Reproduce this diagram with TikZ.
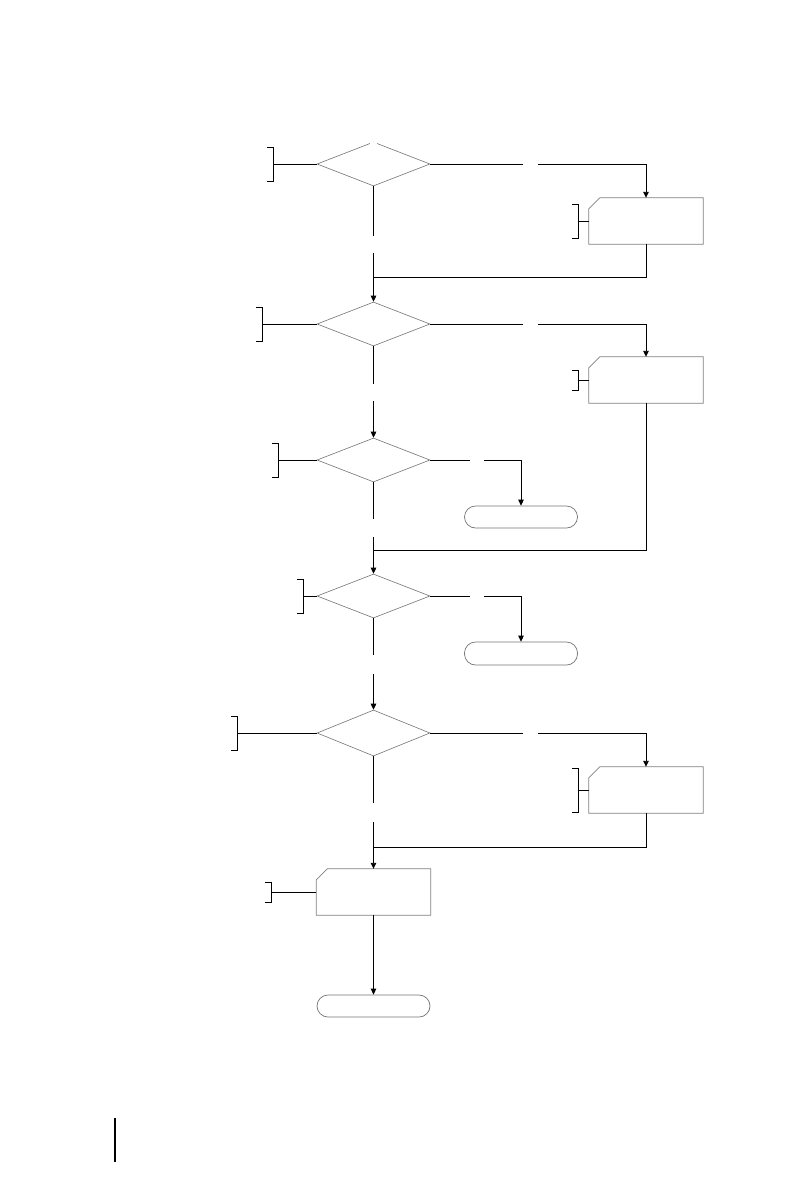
\documentclass[tikz,border=0pt]{standalone}
\usetikzlibrary{shapes.geometric,arrows.meta}
\begin{document}
\begin{tikzpicture}[x=1bp,y=-1bp,
  decision/.style={diamond,draw=black!55,line width=0.6bp,inner sep=0pt,minimum width=113bp,minimum height=44bp},
  procbox/.style={rectangle,draw=none,inner sep=0pt,minimum width=114bp,minimum height=46bp},
  cutline/.style={draw=black!50,line width=0.8bp},
  termbox/.style={rectangle,rounded corners=11bp,draw=black!55,line width=0.7bp,inner sep=0pt,minimum width=113bp,minimum height=22bp},
  conn/.style={draw=black,line width=0.9bp},
  arr/.style={conn,-{Triangle[length=6bp,width=5.5bp]}},
  brk/.style={draw=black,line width=0.9bp}]
\useasboundingbox (0,0) rectangle (794,1190);

% decisions
\node[decision] (d1) at (373.5,164) {};
\node[decision] (d2) at (373.5,324) {};
\node[decision] (d3) at (373.5,460) {};
\node[decision] (d4) at (373.5,596) {};
\node[decision,minimum height=46bp] (d5) at (373.5,733) {};
\draw[white,line width=2bp] (370,142.6) -- (377,142.6);

% process boxes with cut corner
\foreach \n/\x/\y in {a/646/221, b/646/380, c/646/790, e/373.5/892}{
  \node[procbox] (\n) at (\x,\y) {};
  \draw[cutline] (\n.north west) ++(0,11) -- ++(11,-11) -- (\n.north east) -- (\n.south east) -- (\n.south west) -- cycle;
}

% terminals
\node[termbox] (t1) at (521,517) {};
\node[termbox,minimum height=23bp] (t2) at (521,653.5) {};
\node[termbox] (t3) at (373.5,1006) {};

% gap coordinates
\coordinate (g1a) at (523,164);  \coordinate (g1b) at (538,164);
\coordinate (v1a) at (373.5,236); \coordinate (v1b) at (373.5,253);
\coordinate (j1) at (373.5,277);
\coordinate (g2a) at (523,324);  \coordinate (g2b) at (538,324);
\coordinate (v2a) at (373.5,384); \coordinate (v2b) at (373.5,401);
\coordinate (j2) at (373.5,550);
\coordinate (g3a) at (470,460);  \coordinate (g3b) at (484,460);
\coordinate (v3a) at (373.5,519); \coordinate (v3b) at (373.5,537);
\coordinate (g4a) at (470,596);  \coordinate (g4b) at (484,596);
\coordinate (v4a) at (373.5,655); \coordinate (v4b) at (373.5,674);
\coordinate (g5a) at (523,733);  \coordinate (g5b) at (538,733);
\coordinate (v5a) at (373.5,803); \coordinate (v5b) at (373.5,822);
\coordinate (j5) at (373.5,847);

% connectors
\draw[conn] (d1.east) -- (g1a);
\draw[arr] (g1b) -| (a.north);
\draw[conn] (d1.south) -- (v1a);
\draw[arr] (v1b) -- (d2.north);
\draw[conn] (a.south) |- (j1);

\draw[conn] (d2.east) -- (g2a);
\draw[arr] (g2b) -| (b.north);
\draw[conn] (d2.south) -- (v2a);
\draw[arr] (v2b) -- (d3.north);
\draw[conn] (b.south) |- (j2);

\draw[conn] (d3.east) -- (g3a);
\draw[arr] (g3b) -| (t1.north);
\draw[conn] (d3.south) -- (v3a);
\draw[arr] (v3b) -- (d4.north);

\draw[conn] (d4.east) -- (g4a);
\draw[arr] (g4b) -| (t2.north);
\draw[conn] (d4.south) -- (v4a);
\draw[arr] (v4b) -- (d5.north);

\draw[conn] (d5.east) -- (g5a);
\draw[arr] (g5b) -| (c.north);
\draw[conn] (d5.south) -- (v5a);
\draw[arr] (v5b) -- (e.north);
\draw[conn] (c.south) |- (j5);

\draw[arr] (e.south) -- (t3.north);

% annotation brackets
\foreach \n/\k/\x/\h in {d1/k1/273/17, d2/k2/262/17, d3/k3/278/17, d4/k4/303/17, d5/k5/237/17, a/k6/578/17, b/k7/578/10, c/k8/578/22, e/k9/271/10}{
  \coordinate (\k) at (\x,0 |- \n.west);
  \draw[brk] (\n.west) -- (\k);
  \draw[brk] (\k) ++(-6,-\h) -- ++(6,0) -- ++(0,2*\h) -- ++(-6,0);
}

% page marks
\coordinate (m1) at (115,1118); \coordinate (m2) at (115,1162);
\draw[black,line width=1.5bp] (m1) -- (m2);
\end{tikzpicture}
\end{document}
